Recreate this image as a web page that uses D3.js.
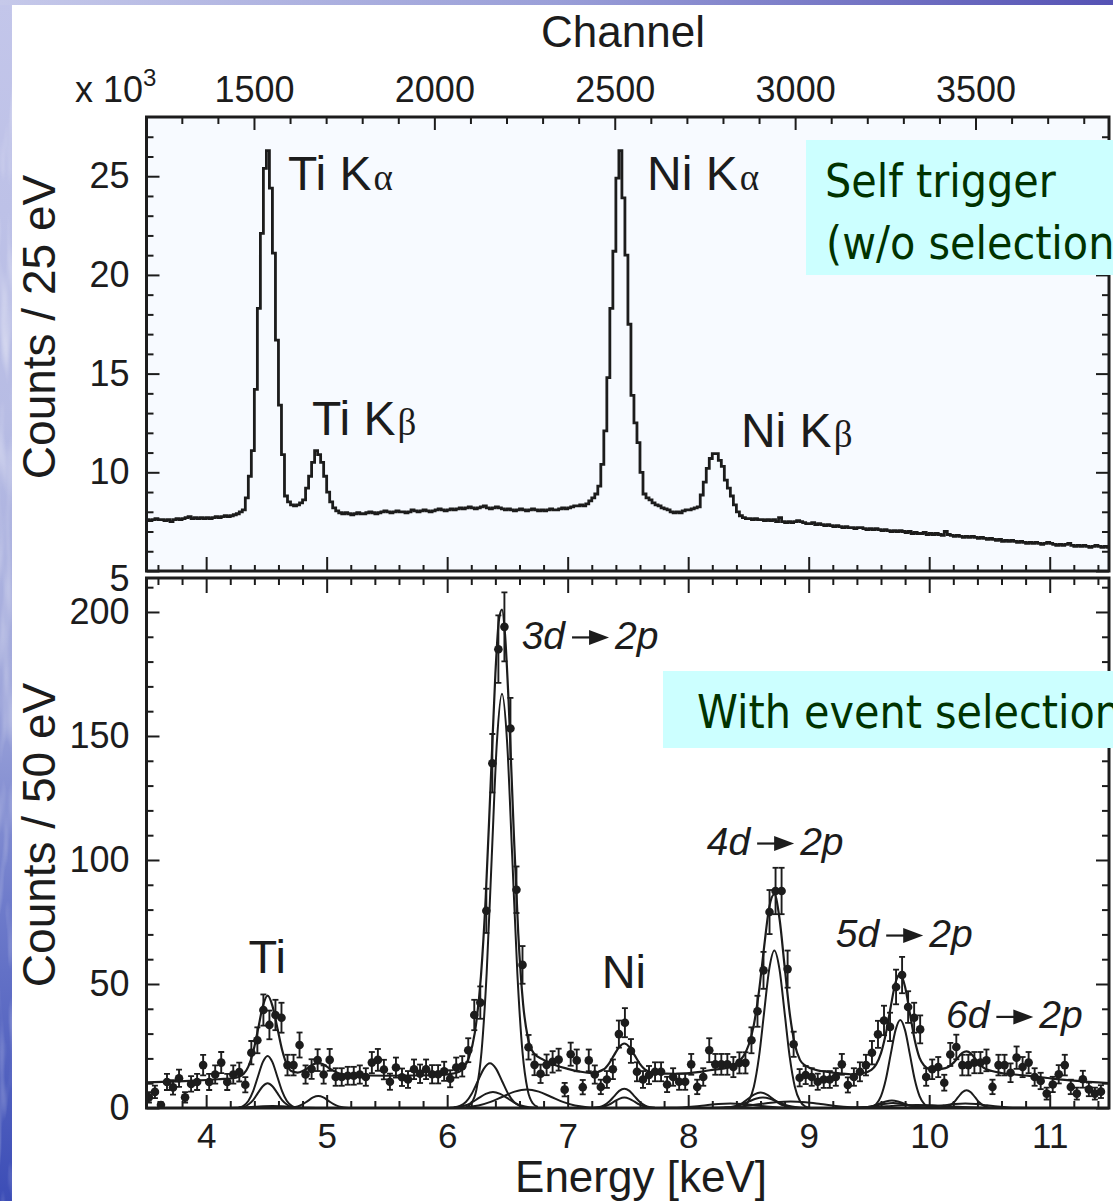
<!DOCTYPE html>
<html>
<head>
<meta charset="utf-8">
<script src="https://cdn.jsdelivr.net/npm/d3@7"></script>
<style>
  body { margin: 0; background: #fff; }
  svg { display: block; }
</style>
</head>
<body>
<svg id="chart" width="1113" height="1201"></svg>
<script>
// ---------------------------------------------------------------
// Self-trigger spectrum (x10^3 counts per 25 eV bin), bins start at 3.500 keV
const histStart = 3.5;
const histBin = 0.025;
const selfTriggerCounts = [
  7.6, 7.55, 7.6, 7.65, 7.6, 7.6, 7.55, 7.6, 7.5, 7.6,
  7.65, 7.6, 7.65, 7.7, 7.75, 7.65, 7.7, 7.65, 7.7, 7.65,
  7.7, 7.65, 7.7, 7.75, 7.7, 7.75, 7.8, 7.75, 7.8, 7.85,
  7.9, 8.0, 8.1, 8.7, 9.8, 11.1, 14.2, 18.3, 22.1, 25.4,
  26.3, 24.4, 21.1, 16.7, 13.4, 10.9, 8.8, 8.5, 8.35, 8.3,
  8.35, 8.45, 8.6, 9.2, 9.8, 10.5, 11.1, 10.9, 10.5, 9.8,
  9.0, 8.5, 8.2, 8.05, 7.95, 7.9, 7.95, 7.9, 7.85, 7.9,
  7.95, 7.9, 7.9, 7.95, 8.0, 7.95, 7.9, 7.95, 8.0, 8.05,
  8.0, 7.95, 8.0, 8.05, 8.0, 8.0, 7.95, 8.0, 8.1, 8.05,
  8.0, 8.05, 8.1, 8.05, 8.0, 8.05, 8.1, 8.15, 8.1, 8.05,
  8.1, 8.15, 8.1, 8.15, 8.2, 8.15, 8.2, 8.25, 8.2, 8.15,
  8.2, 8.25, 8.3, 8.2, 8.15, 8.2, 8.25, 8.2, 8.15, 8.1,
  8.15, 8.1, 8.05, 8.1, 8.15, 8.1, 8.05, 8.1, 8.15, 8.1,
  8.05, 8.1, 8.05, 8.1, 8.15, 8.1, 8.1, 8.15, 8.2, 8.15,
  8.2, 8.25, 8.3, 8.3, 8.35, 8.3, 8.4, 8.55, 8.7, 8.9,
  9.3, 10.4, 12.1, 14.8, 18.3, 21.2, 24.9, 26.3, 23.9, 21.0,
  17.5, 13.9, 12.5, 11.5, 10.0, 8.9, 8.7, 8.6, 8.45, 8.35,
  8.3, 8.2, 8.15, 8.1, 8.0, 7.95, 8.0, 7.95, 8.05, 8.1,
  8.1, 8.15, 8.2, 8.25, 8.85, 9.5, 10.2, 10.7, 10.95, 10.95,
  10.6, 10.3, 9.6, 9.2, 8.8, 8.35, 8.0, 7.8, 7.7, 7.65,
  7.65, 7.6, 7.65, 7.6, 7.6, 7.55, 7.6, 7.55, 7.6, 7.5,
  7.7, 7.5, 7.45, 7.5, 7.45, 7.5, 7.55, 7.5, 7.45, 7.4,
  7.4, 7.45, 7.35, 7.4, 7.35, 7.3, 7.35, 7.3, 7.25, 7.3,
  7.25, 7.2, 7.25, 7.2, 7.2, 7.15, 7.2, 7.2, 7.15, 7.1,
  7.15, 7.1, 7.15, 7.1, 7.05, 7.1, 7.05, 7.0, 7.05, 7.0,
  7.05, 7.0, 6.95, 7.0, 6.9, 6.95, 6.9, 6.9, 6.95, 6.85,
  6.9, 6.85, 6.9, 6.85, 6.8, 7.0, 6.85, 6.8, 6.75, 6.8,
  6.75, 6.7, 6.75, 6.7, 6.75, 6.7, 6.65, 6.7, 6.65, 6.6,
  6.65, 6.6, 6.55, 6.6, 6.5, 6.55, 6.5, 6.55, 6.5, 6.45,
  6.5, 6.45, 6.4, 6.45, 6.4, 6.45, 6.4, 6.35, 6.4, 6.45,
  6.4, 6.35, 6.3, 6.35, 6.3, 6.35, 6.4, 6.3, 6.25, 6.3,
  6.25, 6.3, 6.25, 6.2, 6.25, 6.3, 6.25, 6.2, 6.25, 6.2
];

// Event-selected spectrum (counts per 50 eV bin), first bin centre 3.525 keV
const selStart = 3.525;
const selBin = 0.05;
const selectedCounts = [
  4.3, 6.5, 1.2, 10.5, 8.3, 12.0, 4.3, 9.7, 10.5, 17.3,
  10.5, 13.5, 18.3, 10.5, 13.5, 14.5, 9.4, 22.3, 27.3, 39.5,
  33.5, 37.5, 36.4, 17.3, 17.3, 25.4, 13.5, 15.7, 19.3, 13.5,
  19.4, 12.5, 12.5, 13.0, 13.0, 13.5, 12.5, 18.3, 19.4, 15.5,
  10.6, 16.3, 12.4, 11.5, 15.6, 13.8, 15.6, 13.6, 13.6, 14.8,
  11.8, 16.3, 16.8, 23.3, 37.5, 42.5, 79.5, 139, 185, 194,
  153, 88, 57.7, 24.5, 17.4, 13.8, 17.4, 18.6, 19.5, 7.4,
  21.7, 19.2, 8.4, 19.2, 13.5, 8.5, 11.5, 15.6, 29.8, 34.4,
  23.0, 14.6, 11.5, 13.3, 14.6, 14.6, 9.5, 12.5, 10.6, 10.6,
  17.6, 8.5, 12.5, 23.3, 17.6, 17.6, 17.6, 16.5, 18.2, 18.2,
  27.3, 39, 55.5, 79, 87.5, 87.5, 56, 25.7, 12.2, 13.3,
  12.5, 10.6, 11.5, 11.5, 12.5, 17.6, 9.3, 12.5, 14.6, 17.3,
  22.3, 29.7, 35.3, 32.7, 48.8, 53.6, 40.7, 36.4, 31.7, 12.5,
  15.6, 16.5, 10.2, 21.6, 24.6, 17.3, 17.3, 18.3, 18.3, 19.2,
  8.5, 17.3, 17.3, 14.2, 20.3, 16.5, 18.3, 12.5, 10.9, 5.8,
  9.5, 13.6, 17.3, 8.5, 5.8, 11.6, 7.5, 5.8, 6.6
];

// Total fit to the selected spectrum: [energy keV, counts]
const fitTotal = [
  [3.505, 10.3], [3.7, 10.6], [3.9, 11.0], [4.1, 11.6], [4.25, 12.2], [4.31, 13.7],
  [4.35, 16.7], [4.39, 22.6], [4.43, 31.6], [4.47, 41.0], [4.51, 45.3], [4.55, 41.2],
  [4.59, 32.5], [4.63, 23.5], [4.67, 17.5], [4.71, 14.8], [4.76, 14.3], [4.80, 14.9],
  [4.845, 16.2], [4.89, 17.6], [4.93, 18.1], [4.97, 17.6], [5.015, 16.2], [5.06, 14.9],
  [5.10, 14.0], [5.18, 13.4], [5.5, 13.0], [5.9, 13.2], [6.0, 13.5], [6.1, 14.6],
  [6.18, 20.3], [6.23, 30.5], [6.28, 53], [6.32, 85], [6.36, 129.7], [6.40, 175],
  [6.43, 197], [6.455, 201], [6.48, 191], [6.51, 163.7], [6.55, 114.5], [6.59, 70.3],
  [6.63, 42], [6.67, 28.2], [6.72, 22], [6.8, 19.4], [6.9, 17.2], [7.0, 15.8],
  [7.1, 14.7], [7.2, 14.1], [7.3, 15.6], [7.3425, 17.9], [7.385, 21.3], [7.4275, 24.6],
  [7.47, 26], [7.5125, 24.6], [7.555, 21.3], [7.5975, 17.9], [7.64, 15.6], [7.6825, 14.5],
  [7.725, 14.1], [7.9, 13.8], [8.1, 14.6], [8.2, 15.4], [8.3, 16], [8.4, 18],
  [8.46, 21], [8.5025, 25.5], [8.545, 33.6], [8.5875, 47], [8.63, 64.9], [8.6725, 80.9],
  [8.715, 86.2], [8.7575, 76.5], [8.80, 57.2], [8.8425, 38.2], [8.885, 25.6], [8.9275, 19.4],
  [8.97, 17.2], [9.1, 14.9], [9.2, 14.3], [9.35, 13.6], [9.44, 13.9], [9.52, 15.4],
  [9.56, 17.6], [9.60, 22.1], [9.64, 29.9], [9.68, 40.6], [9.72, 50.5], [9.76, 54],
  [9.80, 48.8], [9.84, 38.1], [9.88, 27.4], [9.92, 20.2], [9.96, 17], [10.0, 15.7],
  [10.05, 15.6], [10.135, 16.1], [10.205, 18.4], [10.24, 20.4], [10.275, 22.2], [10.31, 22.8],
  [10.345, 22], [10.38, 20], [10.415, 17.8], [10.45, 16.3], [10.52, 14.9], [10.6, 14.1],
  [10.8, 13.1], [11.0, 12], [11.2, 11], [11.492, 10]
];

// Individual fit components: [energy keV, counts]
const fitComponents = [
  // Ti K alpha
  [[4.27,0.2],[4.31,0.9],[4.35,2.8],[4.39,6.8],[4.43,12.7],[4.47,18.5],[4.51,21],[4.55,18.5],[4.59,12.7],[4.63,6.8],[4.67,2.8],[4.71,0.9],[4.75,0.2]],
  [[4.27,0.1],[4.31,0.4],[4.35,1.4],[4.39,3.2],[4.43,6.1],[4.47,8.8],[4.51,10],[4.55,8.8],[4.59,6.1],[4.63,3.2],[4.67,1.4],[4.71,0.4],[4.75,0.1]],
  [[4.1,0.01],[4.25,0.1],[4.4,0.5],[4.55,0.8],[4.7,0.5],[4.85,0.1],[5.0,0.01]],
  // Ti K beta
  [[4.675,0.05],[4.7175,0.2],[4.76,0.65],[4.8025,1.55],[4.845,2.9],[4.8875,4.25],[4.93,4.8],[4.9725,4.25],[5.015,2.9],[5.0575,1.55],[5.1,0.65],[5.1425,0.2],[5.185,0.05]],
  // 3d -> 2p
  [[6.1575,0.4],[6.2,1.9],[6.2425,7.3],[6.285,22.6],[6.3275,54.2],[6.37,101.3],[6.4125,147.4],[6.455,167],[6.4975,147.4],[6.54,101.3],[6.5825,54.2],[6.625,22.6],[6.6675,7.3],[6.71,1.9],[6.7525,0.4]],
  [[6.055,0.2],[6.105,0.8],[6.155,2.4],[6.205,5.85],[6.255,10.9],[6.305,15.9],[6.355,18],[6.405,15.9],[6.455,10.9],[6.505,5.85],[6.555,2.4],[6.605,0.8],[6.655,0.2]],
  [[6.02,0.07],[6.08,0.29],[6.14,0.88],[6.2,2.1],[6.26,3.95],[6.32,5.7],[6.38,6.5],[6.44,5.7],[6.5,3.95],[6.56,2.1],[6.62,0.88],[6.68,0.29],[6.74,0.07]],
  [[6.06,0.08],[6.16,0.33],[6.26,1.0],[6.36,2.45],[6.46,4.55],[6.56,6.6],[6.66,7.5],[6.76,6.6],[6.86,4.55],[6.96,2.45],[7.06,1.0],[7.16,0.33],[7.26,0.08]],
  // Ni K
  [[7.215,0.09],[7.2575,0.34],[7.3,1.05],[7.3425,2.5],[7.385,4.7],[7.4275,6.9],[7.47,7.8],[7.5125,6.9],[7.555,4.7],[7.5975,2.5],[7.64,1.05],[7.6825,0.34],[7.725,0.09]],
  [[7.215,0.05],[7.2575,0.18],[7.3,0.57],[7.3425,1.36],[7.385,2.55],[7.4275,3.7],[7.47,4.2],[7.5125,3.7],[7.555,2.55],[7.5975,1.36],[7.64,0.57],[7.6825,0.18],[7.725,0.05]],
  // 4d -> 2p
  [[8.4175,0.14],[8.46,0.7],[8.5025,2.8],[8.545,8.6],[8.5875,20.6],[8.63,38.5],[8.6725,56],[8.715,63.5],[8.7575,56],[8.8,38.5],[8.8425,20.6],[8.885,8.6],[8.9275,2.8],[8.97,0.7],[9.0125,0.14]],
  [[8.3,0.07],[8.35,0.27],[8.4,0.84],[8.45,2.0],[8.5,3.8],[8.55,5.5],[8.6,6.2],[8.65,5.5],[8.7,3.8],[8.75,2.0],[8.8,0.84],[8.85,0.27],[8.9,0.07]],
  [[8.26,0.05],[8.32,0.18],[8.38,0.57],[8.44,1.36],[8.5,2.55],[8.56,3.7],[8.62,4.2],[8.68,3.7],[8.74,2.55],[8.8,1.36],[8.86,0.57],[8.92,0.18],[8.98,0.05]],
  [[8.1,0.03],[8.225,0.11],[8.35,0.35],[8.475,0.85],[8.6,1.6],[8.725,2.3],[8.85,2.6],[8.975,2.3],[9.1,1.6],[9.225,0.85],[9.35,0.35],[9.475,0.11],[9.6,0.03]],
  [[7.75,0.02],[7.85,0.08],[7.95,0.24],[8.05,0.58],[8.15,1.1],[8.25,1.6],[8.35,1.8],[8.45,1.6],[8.55,1.1],[8.65,0.58],[8.75,0.24],[8.85,0.08],[8.95,0.02]],
  // 5d -> 2p
  [[9.52,0.4],[9.56,1.56],[9.6,4.8],[9.64,11.5],[9.68,21.5],[9.72,31.3],[9.76,35.5],[9.8,31.3],[9.84,21.5],[9.88,11.5],[9.92,4.8],[9.96,1.56],[10.0,0.4]],
  [[9.39,0.03],[9.44,0.13],[9.49,0.4],[9.54,0.97],[9.59,1.8],[9.64,2.65],[9.69,3],[9.74,2.65],[9.79,1.8],[9.84,0.97],[9.89,0.4],[9.94,0.13],[9.99,0.03]],
  [[9.34,0.02],[9.4,0.09],[9.46,0.27],[9.52,0.65],[9.58,1.2],[9.64,1.76],[9.7,2],[9.76,1.76],[9.82,1.2],[9.88,0.65],[9.94,0.27],[10.0,0.09],[10.06,0.02]],
  [[9.15,0.01],[9.275,0.05],[9.4,0.16],[9.525,0.39],[9.65,0.73],[9.775,1.06],[9.9,1.2],[10.025,1.06],[10.15,0.73],[10.275,0.39],[10.4,0.16],[10.525,0.05],[10.65,0.01]],
  // 6d -> 2p
  [[10.1,0.08],[10.135,0.32],[10.17,0.97],[10.205,2.34],[10.24,4.37],[10.275,6.35],[10.31,7.2],[10.345,6.35],[10.38,4.37],[10.415,2.34],[10.45,0.97],[10.485,0.32],[10.52,0.08]],
  [[9.76,0.02],[9.85,0.08],[9.94,0.24],[10.03,0.58],[10.12,1.09],[10.21,1.59],[10.3,1.8],[10.39,1.59],[10.48,1.09],[10.57,0.58],[10.66,0.24],[10.75,0.08],[10.84,0.02]]
];

// Tick values
const channelTicks = [1500, 2000, 2500, 3000, 3500];
const energyTicks = [4, 5, 6, 7, 8, 9, 10, 11];
const topCountTicks = [5, 10, 15, 20, 25];
const bottomCountTicks = [0, 50, 100, 150, 200];

// Peak labels (anchor in data units: energy keV, counts)
const topPeakLabels = [
  { name: "Ti K", greek: "α", e: 4.679, v: 24.30 },
  { name: "Ti K", greek: "β", e: 4.878, v: 11.89 },
  { name: "Ni K", greek: "α", e: 7.658, v: 24.30 },
  { name: "Ni K", greek: "β", e: 8.438, v: 11.28 }
];
const bottomPeakLabels = [
  { name: "Ti", e: 4.351, v: 54.4 },
  { name: "Ni", e: 7.282, v: 48.4 }
];
const transitionLabels = [
  { n: "3", e: 6.618, v: 185.1 },
  { n: "4", e: 8.154, v: 102.0 },
  { n: "5", e: 9.225, v: 64.9 },
  { n: "6", e: 10.139, v: 32.1 }
];

// ---------------------------------------------------------------
const W = 1113, H = 1201;
const INK = "#1c1c1c";
const SANS = "'Liberation Sans', Arial, Helvetica, sans-serif";
const BOXFONT = "'DejaVu Sans Condensed', 'DejaVu Sans', sans-serif";

const frameL = 146.5, frameR = 1109;
const topY0 = 117, topY1 = 571;
const botY0 = 578, botY1 = 1108;

const x = d3.scaleLinear().domain([3.505, 11.492]).range([frameL, frameR]);
const xCh = d3.scaleLinear().domain([1202.1, 3870]).range([frameL, frameR]);
const yTop = d3.scaleLinear().domain([5, 28]).range([topY1, topY0]);
const yBot = d3.scaleLinear().domain([0, 213.7]).range([botY1, botY0]);

const svg = d3.select("#chart");
const defs = svg.append("defs");

// slide backdrop: textured blue strip on the left, gradient band on top
const side = defs.append("linearGradient").attr("id", "sideGrad")
  .attr("x1", 0).attr("y1", 0).attr("x2", 0).attr("y2", 1);
[["0", "#c3c6ea"], ["0.35", "#b7bce4"], ["0.55", "#a4abdc"], ["0.75", "#6f7ccb"], ["1", "#3c4db6"]]
  .forEach(([o, c]) => side.append("stop").attr("offset", o).attr("stop-color", c));
const topBand = defs.append("linearGradient").attr("id", "topGrad")
  .attr("x1", 0).attr("y1", 0).attr("x2", 1).attr("y2", 0);
[["0", "#c6c9ea"], ["0.5", "#9a9fd8"], ["1", "#5552b4"]]
  .forEach(([o, c]) => topBand.append("stop").attr("offset", o).attr("stop-color", c));
const grain = defs.append("filter").attr("id", "grain").attr("x", 0).attr("y", 0).attr("width", 1).attr("height", 1);
grain.append("feTurbulence").attr("type", "fractalNoise").attr("baseFrequency", "0.08 0.012").attr("numOctaves", 2).attr("seed", 4);
grain.append("feColorMatrix").attr("values", "0 0 0 0 1  0 0 0 0 1  0 0 0 0 1  0 0 0 1.6 -0.75");
grain.append("feComposite").attr("in2", "SourceGraphic").attr("operator", "in");

svg.append("rect").attr("width", W).attr("height", H).attr("fill", "#fff");
svg.append("rect").attr("x", 0).attr("y", 0).attr("width", 12).attr("height", H).attr("fill", "url(#sideGrad)");
svg.append("rect").attr("x", 0).attr("y", 0).attr("width", 12).attr("height", H)
  .attr("fill", "#fff").attr("filter", "url(#grain)").attr("opacity", 0.7);
svg.append("rect").attr("x", 0).attr("y", 0).attr("width", W).attr("height", 5).attr("fill", "url(#topGrad)");

defs.append("clipPath").attr("id", "clipTop").append("rect")
  .attr("x", frameL).attr("y", topY0).attr("width", frameR - frameL).attr("height", topY1 - topY0);
defs.append("clipPath").attr("id", "clipBot").append("rect")
  .attr("x", frameL).attr("y", botY0).attr("width", frameR - frameL).attr("height", botY1 - botY0);

// panel backgrounds
svg.append("rect").attr("x", frameL).attr("y", topY0).attr("width", frameR - frameL)
  .attr("height", topY1 - topY0).attr("fill", "#f7faff");

// ---------------------------------------------------------------
// axes helper
function drawAxis(axisGen, transform, values, size, withLabels, pad, fontSize) {
  const a = axisGen.tickValues(values).tickSize(size).tickPadding(pad || 3)
    .tickFormat(withLabels ? d3.format("d") : "");
  const g = svg.append("g").attr("transform", transform).call(a);
  g.select(".domain").remove();
  g.selectAll("line").attr("stroke", INK).attr("stroke-width", 2);
  g.attr("font-family", SANS).attr("font-size", fontSize || 36);
  g.selectAll("text").attr("fill", INK);
  return g;
}
const isInt = v => Math.abs(v - Math.round(v)) < 1e-6;
const energyMinor = d3.range(3.6, 11.5, 0.2).filter(v => !isInt(v));
const channelMinor = d3.range(1300, 3900, 100).filter(v => v % 500 !== 0);
const topMinor = d3.range(6, 28, 1).filter(v => v % 5 !== 0);
const botMinor = d3.range(10, 214, 10).filter(v => v % 50 !== 0);

// top panel axes
drawAxis(d3.axisTop(xCh), `translate(0,${topY0})`, channelTicks, -13, true, 15);
drawAxis(d3.axisTop(xCh), `translate(0,${topY0})`, channelMinor, -7, false);
drawAxis(d3.axisBottom(x), `translate(0,${topY1})`, energyTicks, -14, false);
drawAxis(d3.axisBottom(x), `translate(0,${topY1})`, energyMinor, -6, false);
const topLeft = drawAxis(d3.axisLeft(yTop), `translate(${frameL},0)`, topCountTicks, -13, true, 17);
topLeft.selectAll(".tick text").filter(d => d === 5).attr("dy", "0.55em");
drawAxis(d3.axisLeft(yTop), `translate(${frameL},0)`, topMinor, -7, false);
drawAxis(d3.axisRight(yTop), `translate(${frameR},0)`, topCountTicks, -13, false);
drawAxis(d3.axisRight(yTop), `translate(${frameR},0)`, topMinor, -7, false);

// bottom panel axes
drawAxis(d3.axisTop(x), `translate(0,${botY0})`, energyTicks, -15, false);
drawAxis(d3.axisTop(x), `translate(0,${botY0})`, energyMinor, -7, false);
drawAxis(d3.axisBottom(x), `translate(0,${botY1})`, energyTicks, -13, true, 15, 35);
drawAxis(d3.axisBottom(x), `translate(0,${botY1})`, energyMinor, -7, false);
drawAxis(d3.axisLeft(yBot), `translate(${frameL},0)`, bottomCountTicks, -13, true, 17);
drawAxis(d3.axisLeft(yBot), `translate(${frameL},0)`, botMinor, -7, false);
drawAxis(d3.axisRight(yBot), `translate(${frameR},0)`, bottomCountTicks, -13, false);
drawAxis(d3.axisRight(yBot), `translate(${frameR},0)`, botMinor, -7, false);

// ---------------------------------------------------------------
// top panel: self-trigger histogram
const histPts = selfTriggerCounts.map((v, i) => [histStart + i * histBin, v]);
histPts.push([histStart + selfTriggerCounts.length * histBin, selfTriggerCounts[selfTriggerCounts.length - 1]]);
svg.append("path")
  .attr("clip-path", "url(#clipTop)")
  .attr("d", d3.line().x(d => x(d[0])).y(d => yTop(d[1])).curve(d3.curveStepAfter)(histPts))
  .attr("fill", "none").attr("stroke", INK).attr("stroke-width", 2.8).attr("stroke-linejoin", "miter");

// bottom panel: fit curves
const fitLine = d3.line().x(d => x(d[0])).y(d => yBot(d[1])).curve(d3.curveMonotoneX);
const gBot = svg.append("g").attr("clip-path", "url(#clipBot)");
gBot.selectAll("path.comp").data(fitComponents).join("path")
  .attr("class", "comp")
  .attr("d", fitLine)
  .attr("fill", "none").attr("stroke", INK).attr("stroke-width", 2);
gBot.append("path").attr("d", fitLine(fitTotal))
  .attr("fill", "none").attr("stroke", INK).attr("stroke-width", 2.2);

// bottom panel: data with Poisson error bars
const pts = selectedCounts.map((v, i) => ({ e: selStart + i * selBin, v, err: Math.sqrt(v) }));
const gPts = gBot.append("g");
const pg = gPts.selectAll("g").data(pts).join("g");
pg.append("line")
  .attr("x1", d => x(d.e)).attr("x2", d => x(d.e))
  .attr("y1", d => yBot(d.v - d.err)).attr("y2", d => yBot(d.v + d.err))
  .attr("stroke", INK).attr("stroke-width", 1.9);
pg.append("line")
  .attr("x1", d => x(d.e) - 3).attr("x2", d => x(d.e) + 3)
  .attr("y1", d => yBot(d.v + d.err)).attr("y2", d => yBot(d.v + d.err))
  .attr("stroke", INK).attr("stroke-width", 1.8);
pg.append("line")
  .attr("x1", d => x(d.e) - 3).attr("x2", d => x(d.e) + 3)
  .attr("y1", d => yBot(d.v - d.err)).attr("y2", d => yBot(d.v - d.err))
  .attr("stroke", INK).attr("stroke-width", 1.8);
pg.append("circle")
  .attr("cx", d => x(d.e)).attr("cy", d => yBot(d.v)).attr("r", 4.3)
  .attr("fill", INK);

// ---------------------------------------------------------------
// panel frames
svg.append("rect").attr("x", frameL).attr("y", topY0).attr("width", frameR - frameL)
  .attr("height", topY1 - topY0).attr("fill", "none").attr("stroke", INK).attr("stroke-width", 3);
svg.append("rect").attr("x", frameL).attr("y", botY0).attr("width", frameR - frameL)
  .attr("height", botY1 - botY0).attr("fill", "none").attr("stroke", INK).attr("stroke-width", 3);

// ---------------------------------------------------------------
// axis titles
svg.append("text").attr("x", 623).attr("y", 47).attr("text-anchor", "middle")
  .attr("font-family", SANS).attr("font-size", 44).attr("fill", INK).text("Channel");
const exp = svg.append("text").attr("x", 75).attr("y", 102)
  .attr("font-family", SANS).attr("font-size", 36).attr("fill", INK);
exp.append("tspan").text("x 10");
exp.append("tspan").attr("font-size", 24).attr("dy", -16).text("3");

svg.append("text").attr("x", 641).attr("y", 1192).attr("text-anchor", "middle")
  .attr("font-family", SANS).attr("font-size", 44).attr("fill", INK).text("Energy [keV]");
svg.append("text").attr("transform", "translate(55,327) rotate(-90)").attr("text-anchor", "middle")
  .attr("font-family", SANS).attr("font-size", 46).attr("fill", INK).text("Counts / 25 eV");
svg.append("text").attr("transform", "translate(55,835) rotate(-90)").attr("text-anchor", "middle")
  .attr("font-family", SANS).attr("font-size", 46).attr("fill", INK).text("Counts / 50 eV");

// peak labels, top panel
topPeakLabels.forEach(p => {
  const t = svg.append("text").attr("x", x(p.e)).attr("y", yTop(p.v))
    .attr("font-family", SANS).attr("font-size", 48).attr("fill", INK);
  t.append("tspan").text(p.name);
  t.append("tspan").attr("font-family", "'Liberation Serif', 'Times New Roman', serif")
    .attr("font-size", 37).attr("dx", 2).text(p.greek);
});
// peak labels, bottom panel
bottomPeakLabels.forEach(p => {
  svg.append("text").attr("x", x(p.e)).attr("y", yBot(p.v))
    .attr("font-family", SANS).attr("font-size", 47).attr("fill", INK).text(p.name);
});
// transition labels with arrows
transitionLabels.forEach(p => {
  const x0 = x(p.e), y0 = yBot(p.v);
  const g = svg.append("g").attr("fill", INK);
  const t1 = g.append("text").attr("x", x0).attr("y", y0)
    .attr("font-family", SANS).attr("font-size", 39).attr("font-style", "italic").text(p.n + "d");
  const w1 = t1.node().getComputedTextLength();
  const ax0 = x0 + w1 + 7, ax1 = ax0 + 37, ay = y0 - 11.5;
  g.append("line").attr("x1", ax0).attr("x2", ax1 - 16).attr("y1", ay).attr("y2", ay)
    .attr("stroke", INK).attr("stroke-width", 2.2);
  g.append("path").attr("d", `M${ax1 - 20},${ay - 7.5}L${ax1},${ay}L${ax1 - 20},${ay + 7.5}Z`);
  g.append("text").attr("x", ax1 + 6).attr("y", y0)
    .attr("font-family", SANS).attr("font-size", 39).attr("font-style", "italic").text("2p");
});

// ---------------------------------------------------------------
// annotation boxes (they run off the right edge of the slide)
svg.append("rect").attr("x", 806).attr("y", 140).attr("width", 320).attr("height", 135).attr("fill", "#ccffff");
svg.append("text").attr("x", 825).attr("y", 197)
  .attr("font-family", BOXFONT).attr("font-stretch", "condensed").attr("font-size", 46)
  .attr("fill", "#003300").text("Self trigger");
svg.append("text").attr("x", 826).attr("y", 259)
  .attr("font-family", BOXFONT).attr("font-stretch", "condensed").attr("font-size", 46)
  .attr("fill", "#003300").text("(w/o selection)");

svg.append("rect").attr("x", 663).attr("y", 671).attr("width", 460).attr("height", 77).attr("fill", "#ccffff");
svg.append("text").attr("x", 697).attr("y", 728)
  .attr("font-family", BOXFONT).attr("font-stretch", "condensed").attr("font-size", 46)
  .attr("fill", "#003300").text("With event selection");
</script>
</body>
</html>
